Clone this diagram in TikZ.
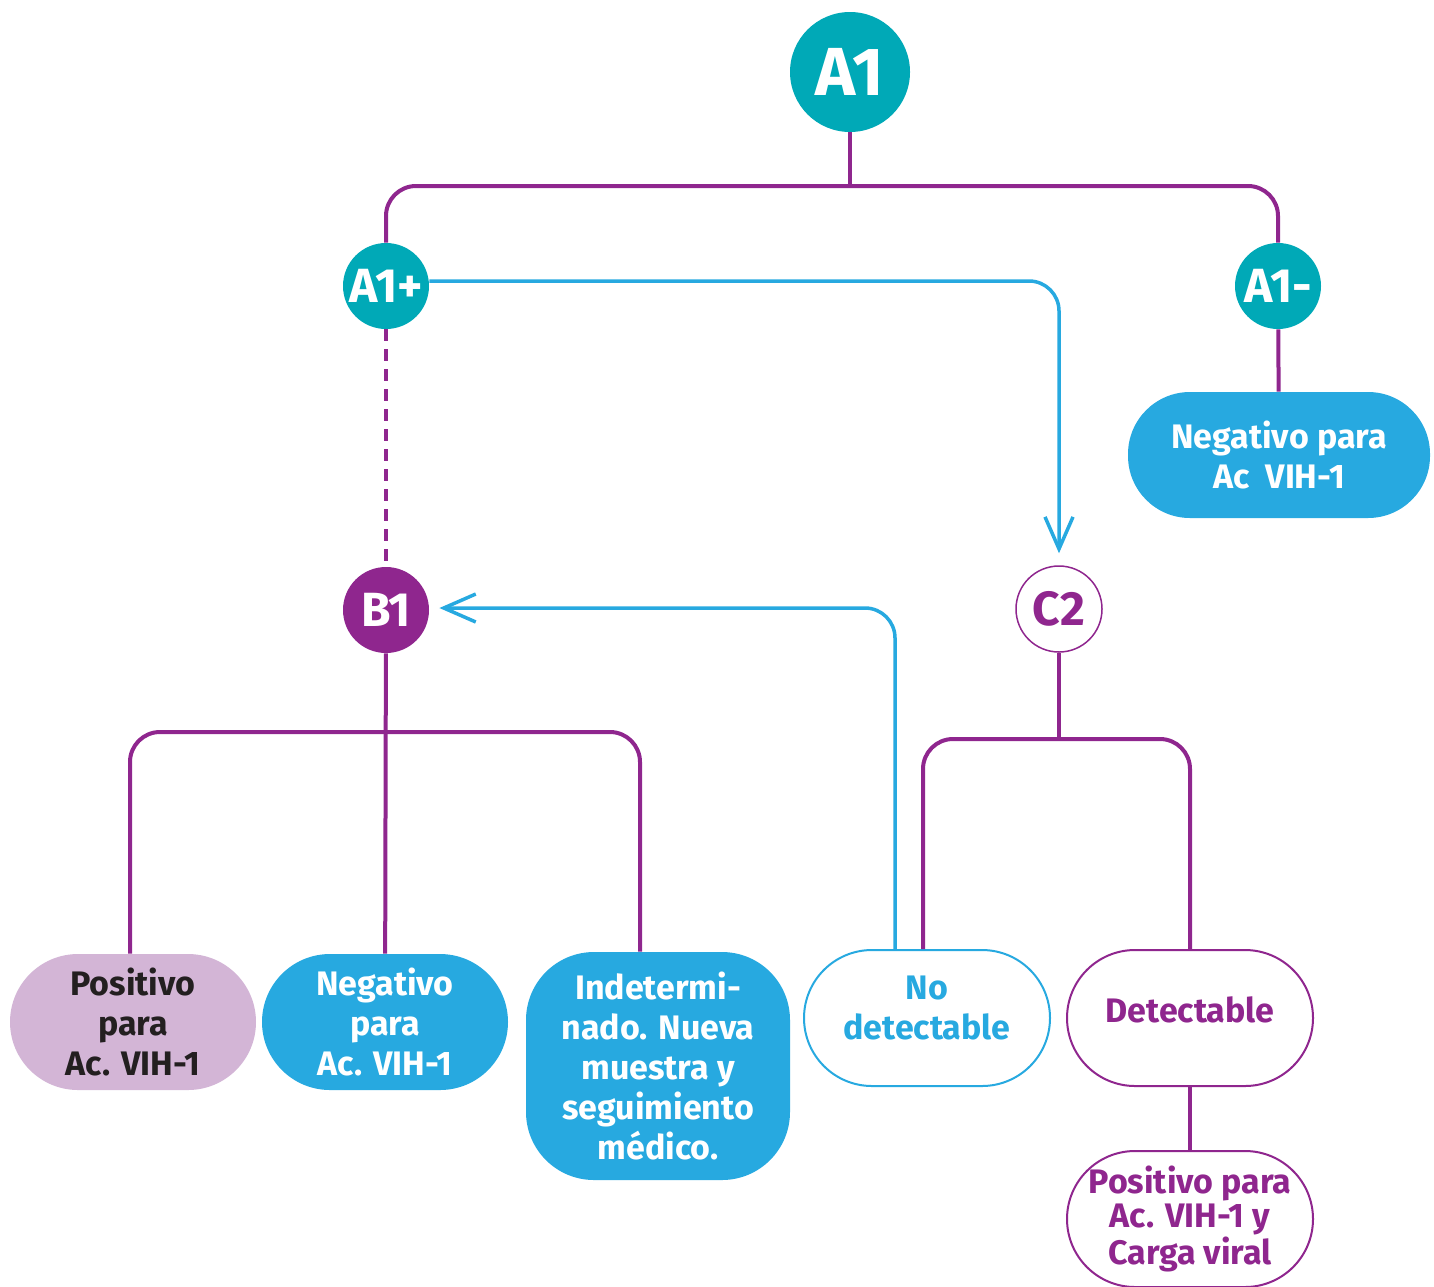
\documentclass[tikz,border=0pt]{standalone}
\usepackage{fontspec}
\setmainfont{Fira Sans}
\usetikzlibrary{arrows.meta}
\definecolor{vihteal}{HTML}{00A9B7}
\definecolor{vihpurple}{HTML}{8F268E}
\definecolor{vihblue}{HTML}{27A9E0}
\definecolor{vihlilac}{HTML}{D3B5D6}
\definecolor{vihdark}{HTML}{231F20}

\begin{document}
\begin{tikzpicture}[x=0.5pt,y=-0.5pt,
  bigdot/.style={circle,fill=vihteal,text=white,inner sep=0pt,minimum size=60pt,
    font=\bfseries\fontsize{34}{34}\selectfont},
  dot/.style={circle,inner sep=0pt,minimum size=43pt,font=\bfseries\fontsize{24}{24}\selectfont},
  pill/.style={rectangle,rounded corners=34pt,inner sep=0pt,minimum width=123pt,minimum height=68pt,
    align=center,font=\bfseries\fontsize{17}{20}\selectfont},
  tree/.style={vihpurple,line width=2pt,rounded corners=15pt},
  jump/.style={vihblue,line width=1.75pt,rounded corners=15pt,
    -{Straight Barb[length=16pt,width=14pt,line width=1.75pt]}}]
\useasboundingbox (0,0) rectangle (1434,1286);
% circles
\node[bigdot] (A1) at (850,72) {A1};
\node[dot,fill=vihteal,text=white] (A1p) at (386,286) {A1+};
\node[dot,fill=vihteal,text=white] (A1m) at (1278,286) {A1-};
\node[dot,fill=vihpurple,text=white] (B1) at (386,610) {B1};
\node[dot,draw=vihpurple,line width=0.75pt,fill=white,text=vihpurple] (C2) at (1059,609) {C2};
% results
\node[pill,fill=vihblue,text=white,minimum width=151pt,minimum height=63pt,rounded corners=31pt]
  (negA) at (1279,455) {Negativo para\\Ac\ \ VIH-1};
\node[pill,fill=vihlilac,text=vihdark] (posB) at (133,1022) {Positivo\\para\\Ac. VIH-1};
\node[pill,fill=vihblue,text=white] (negB) at (385,1022) {Negativo\\para\\Ac. VIH-1};
\node[pill,fill=vihblue,text=white,minimum width=132pt,minimum height=114pt]
  (indet) at (658,1066) {Indetermi-\\nado. Nueva\\muestra y\\seguimiento\\médico.};
\node[pill,draw=vihblue,line width=1pt,fill=white,text=vihblue,text depth=10pt]
  (nodet) at (927,1018) {No\\detectable};
\node[pill,draw=vihpurple,line width=1pt,fill=white,text=vihpurple,text depth=8pt]
  (det) at (1190,1018) {Detectable};
\node[pill,draw=vihpurple,line width=1pt,fill=white,text=vihpurple,
  font=\bfseries\fontsize{17}{15.5}\selectfont] (poscv) at (1190,1219) {Positivo para\\Ac. VIH-1 y\\Carga viral};
% tree lines
\coordinate (barA) at (850,186);
\coordinate (barB) at (386,732);
\coordinate (barC) at (1059,739);
\draw[tree] (A1) -- (barA);
\draw[tree] (A1p.north) |- (barA) -| (A1m.north);
\draw[tree] (A1m) -- (negA);
\draw[tree,dash pattern=on 6pt off 4pt] (A1p) -- (B1);
\draw[tree] (B1) -- (negB);
\draw[tree] ([xshift=-1.5pt]posB.north) |- (barB) -| ([xshift=-9pt]indet.north);
\draw[tree] (C2) -- (barC);
\draw[tree] ([xshift=-2pt]nodet.north) |- (barC) -| (det.north);
\draw[tree] (det) -- (poscv);
% blue arrows
\draw[jump,shorten >=6pt] ([yshift=2.5pt]A1p.east) -| (C2.north);
\draw[jump,shorten >=5pt] ([xshift=-16pt]nodet.north) |- ([yshift=1pt]B1.east);
\end{tikzpicture}
\end{document}
